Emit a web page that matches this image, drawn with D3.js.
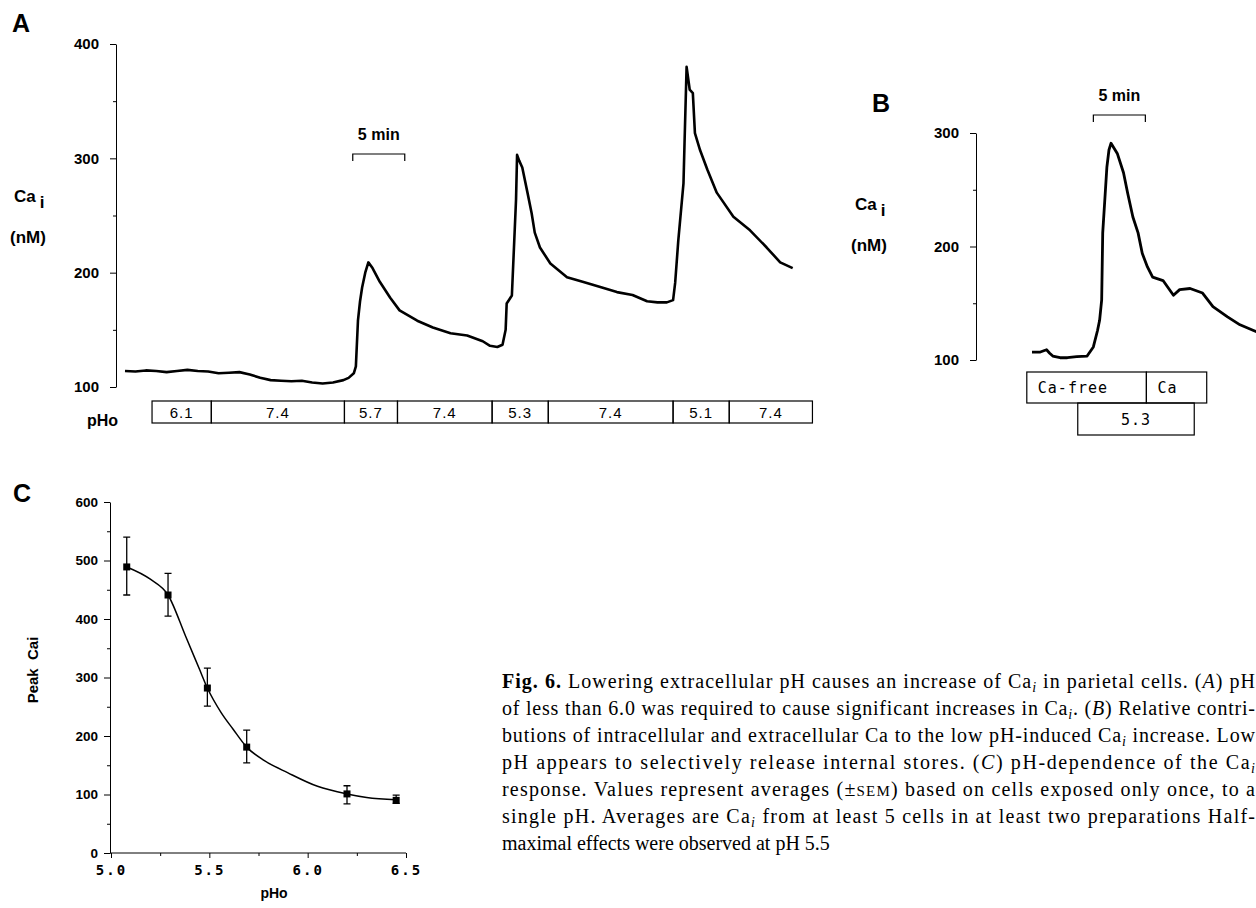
<!DOCTYPE html>
<html>
<head>
<meta charset="utf-8">
<script src="https://cdn.jsdelivr.net/npm/d3@7"></script>
<style>
  body { margin: 0; background: #fff; }
  svg { display: block; }
</style>
</head>
<body>
<svg width="1256" height="908"></svg>
<script>
// ---- panel A: Ca_i trace, time in min, Ca in nM
const traceATime = [0, 1, 2, 3, 4, 5, 6, 7, 8, 9, 10, 11, 12, 13, 14, 15, 16, 17, 18, 19, 20, 21, 21.5, 22, 22.2,
  22.4, 22.6, 22.8, 23.1, 23.4, 23.8, 24.5, 25.5, 26.4, 28.1, 29.6, 31.3, 32.9, 34.4, 35.1, 35.8, 36.3, 36.6,
  36.7, 37.2, 37.4, 37.6, 37.7, 37.9, 38.2, 38.7, 39.1, 39.4, 39.9, 40.9, 42.5, 44.0, 45.7, 47.3, 48.8, 50.2,
  51.2, 52.1, 52.7, 52.9, 53.2, 53.7, 53.8, 54.0, 54.3, 54.6, 54.8, 55.3, 56.0, 56.9, 58.5, 60.1, 61.7, 63.0, 64.2];
const traceACa = [114, 113.5, 114.5, 114, 113, 114, 115, 114, 113.5, 112, 112.5, 113, 111, 108, 106, 105.5, 105,
  105.5, 104, 103, 104, 106, 108, 112, 118, 158, 175, 187, 200, 209, 204, 192, 178, 167, 158, 152, 147, 145, 140,
  136, 135, 137, 150, 173, 180, 222, 264, 303, 298, 292, 270, 252, 235, 222, 208, 196, 192, 187.5, 183, 180.5, 175,
  174, 174, 176, 191, 228, 278, 313, 380, 360, 357, 322, 307, 290, 270, 249, 237, 222, 209, 204];
const boxAStart = [2.6, 8.3, 21.1, 26.2, 35.3, 40.7, 52.7, 58.1];
const boxAEnd = [8.3, 21.1, 26.2, 35.3, 40.7, 52.7, 58.1, 66.1];
const boxALabel = ["6.1", "7.4", "5.7", "7.4", "5.3", "7.4", "5.1", "7.4"];
const ticksA = [100, 200, 300, 400];
const minorA = [150, 250, 350];
const barAStart = 21.9; // 5 min scale bar

// ---- panel B
const traceBTime = [0, 0.8, 1.4, 1.7, 2.0, 2.7, 3.4, 4.3, 5.3, 5.9, 6.3, 6.5, 6.7, 6.8, 7.0, 7.2, 7.4, 7.6, 8.2,
  8.8, 9.2, 9.7, 10.2, 10.6, 11.1, 11.6, 12.6, 13.6, 14.2, 15.2, 16.4, 17.4, 18.8, 20.0, 21.3, 22.1];
const traceBCa = [107, 107, 109, 106, 103.5, 102, 102, 103, 103.5, 111.5, 126, 135, 153, 212, 241, 270, 285, 291,
  282, 265, 247, 226, 212, 194, 182, 173, 170, 157, 162, 163, 159, 147, 138, 131, 126, 123];
const boxBTopStart = [-0.5, 11.0];
const boxBTopEnd = [11.0, 16.8];
const boxBTopLabel = ["Ca-free", "Ca"];
const boxBLowStart = [4.4];
const boxBLowEnd = [15.6];
const boxBLowLabel = ["5.3"];
const ticksB = [100, 200, 300];
const minorB = [150, 250];
const barBStart = 5.9;

// ---- panel C: peak Ca_i vs pHo
const phC = [5.08, 5.29, 5.49, 5.69, 6.20, 6.45];
const peakC = [489, 441, 282, 181, 101, 90];
const errHiC = [540, 478, 316, 210, 115, 99];
const errLoC = [441, 405, 251, 154, 84, 85];
const fitPh = [5.08, 5.2, 5.29, 5.38, 5.45, 5.49, 5.56, 5.62, 5.69, 5.78, 5.9, 6.05, 6.2, 6.3, 6.45];
const fitCa = [489, 468, 441, 370, 314, 282, 240, 212, 181, 158, 137, 114, 101, 95, 91];
const ticksCy = [0, 100, 200, 300, 400, 500, 600];
const minorCy = [50, 150, 250, 350, 450, 550];
const ticksCx = [5.0, 5.5, 6.0, 6.5];
const minorCx = [5.25, 5.75, 6.25];

// ---- caption: [text, style]  b bold, i italic, s subscript, c small caps
const captionLines = [
  [["Fig. 6.", "b"], [" Lowering extracellular pH causes an increase of Ca", ""], ["i", "s"], [" in parietal cells. (", ""], ["A", "i"], [") pH", ""]],
  [["of less than 6.0 was required to cause significant increases in Ca", ""], ["i", "s"], [". (", ""], ["B", "i"], [") Relative contri-", ""]],
  [["butions of intracellular and extracellular Ca to the low pH-induced Ca", ""], ["i", "s"], [" increase. Low", ""]],
  [["pH appears to selectively release internal stores. (", ""], ["C", "i"], [") pH-dependence of the Ca", ""], ["i", "s"]],
  [["response. Values represent averages (\u00b1", ""], ["SEM", "c"], [") based on cells exposed only once, to a", ""]],
  [["single pH. Averages are Ca", ""], ["i", "s"], [" from at least 5 cells in at least two preparations Half-", ""]],
  [["maximal effects were observed at pH 5.5", ""]]
];

const svg = d3.select("svg");
const SANS = "'Liberation Sans', Arial, Helvetica, sans-serif";
const MONO = "'DejaVu Sans Mono', 'Liberation Mono', monospace";

function styleAxis(g, size) {
  g.selectAll("path,line").attr("stroke", "#000").attr("stroke-width", 1);
  g.selectAll("text").attr("font-family", SANS).attr("font-size", size)
    .attr("font-weight", "bold").attr("fill", "#000");
}

// y axis with major + minor ticks
function drawYAxis(x, scale, major, minor, size, pad) {
  const g = svg.append("g").attr("transform", `translate(${x},0)`);
  g.call(d3.axisLeft(scale).tickValues(major).tickSize(6).tickSizeOuter(0).tickPadding(pad));
  g.append("g").call(d3.axisLeft(scale).tickValues(minor).tickSize(3).tickSizeOuter(0).tickFormat(""))
    .select(".domain").remove();
  styleAxis(g, size);
  return g;
}

function label(x, y, txt, size, opts = {}) {
  return svg.append("text").attr("x", x).attr("y", y).text(txt)
    .attr("font-family", opts.family || SANS).attr("font-size", size)
    .attr("font-weight", opts.weight || "bold").attr("text-anchor", opts.anchor || "start")
    .attr("fill", "#000");
}

function caLabel(x, y) {
  const t = label(x, y, "Ca", 17);
  t.append("tspan").attr("dx", 4).attr("dy", 6).text("i");
  label(x - 4, y + 41, "(nM)", 17);
}

function scaleBar(x0, x1, y, txt) {
  svg.append("path").attr("d", `M${x0},${y + 7}V${y}H${x1}V${y + 7}`)
    .attr("fill", "none").attr("stroke", "#000").attr("stroke-width", 1.2);
  label((x0 + x1) / 2, y - 14, txt, 16, { anchor: "middle" });
}

function boxes(xs, starts, ends, labels, y0, h, anchor, size, family) {
  const g = svg.append("g");
  g.selectAll("rect").data(labels).enter().append("rect")
    .attr("x", (d, i) => xs(starts[i])).attr("y", y0)
    .attr("width", (d, i) => xs(ends[i]) - xs(starts[i])).attr("height", h)
    .attr("fill", "none").attr("stroke", "#000").attr("stroke-width", 1.2);
  g.selectAll("text").data(labels).enter().append("text")
    .attr("x", (d, i) => anchor === "middle" ? (xs(starts[i]) + xs(ends[i])) / 2 : xs(starts[i]) + 11)
    .attr("y", y0 + h / 2 + 5.5)
    .attr("text-anchor", anchor).attr("font-family", family).attr("font-size", size)
    .attr("letter-spacing", 1).attr("fill", "#000").text(d => d);
}

// ================= panel A
const xA = d3.scaleLinear().domain([0, 65]).range([125, 801]);
const yA = d3.scaleLinear().domain([100, 400]).range([387, 44]);
drawYAxis(116, yA, ticksA, minorA, 15, 11);
label(12, 32, "A", 25);
caLabel(14, 202);

svg.append("path")
  .datum(traceATime.map((t, i) => [t, traceACa[i]]))
  .attr("d", d3.line().x(d => xA(d[0])).y(d => yA(d[1])))
  .attr("fill", "none").attr("stroke", "#000").attr("stroke-width", 2.6)
  .attr("stroke-linejoin", "round");

scaleBar(xA(barAStart), xA(barAStart + 5), 154, "5 min");
boxes(xA, boxAStart, boxAEnd, boxALabel, 401, 22, "middle", 15, SANS);
label(87, 426, "pHo", 16);

// ================= panel B
const xB = d3.scaleLinear().domain([0, 22]).range([1032, 1032 + 22 * 10.4]);
const yB = d3.scaleLinear().domain([100, 300]).range([360, 133]);
drawYAxis(976, yB, ticksB, minorB, 15, 11);
label(872, 112, "B", 25);
caLabel(855, 210);

svg.append("path")
  .datum(traceBTime.map((t, i) => [t, traceBCa[i]]))
  .attr("d", d3.line().x(d => xB(d[0])).y(d => yB(d[1])))
  .attr("fill", "none").attr("stroke", "#000").attr("stroke-width", 2.8)
  .attr("stroke-linejoin", "round");

scaleBar(xB(barBStart), xB(barBStart + 5), 115, "5 min");
boxes(xB, boxBTopStart, boxBTopEnd, boxBTopLabel, 372, 31, "start", 15, MONO);
boxes(xB, boxBLowStart, boxBLowEnd, boxBLowLabel, 403, 32, "middle", 15, MONO);

// ================= panel C
const xC = d3.scaleLinear().domain([5.0, 6.5]).range([111, 406]);
const yC = d3.scaleLinear().domain([0, 600]).range([853, 502]);
drawYAxis(110, yC, ticksCy, minorCy, 13.5, 6);
label(13, 502, "C", 25);

const gx = svg.append("g").attr("transform", "translate(0,853)");
gx.call(d3.axisBottom(xC).tickValues(ticksCx).tickSize(5).tickSizeOuter(0).tickPadding(7)
  .tickFormat(d3.format(".1f")));
gx.append("g").call(d3.axisBottom(xC).tickValues(minorCx).tickSize(3).tickSizeOuter(0).tickFormat(""))
  .select(".domain").remove();
styleAxis(gx, 14);
gx.selectAll("text").attr("font-family", MONO).attr("letter-spacing", 2);
gx.select(".domain").attr("d", `M110,0H${xC(6.5)}`);

label(274, 898, "pHo", 14, { anchor: "middle" });
svg.append("text").attr("transform", "translate(38,670) rotate(-90)")
  .attr("text-anchor", "middle").attr("font-family", SANS).attr("font-size", 15)
  .attr("font-weight", "bold").attr("xml:space", "preserve").text("Peak  Cai");

svg.append("path")
  .datum(fitPh.map((p, i) => [p, fitCa[i]]))
  .attr("d", d3.line().curve(d3.curveMonotoneX).x(d => xC(d[0])).y(d => yC(d[1])))
  .attr("fill", "none").attr("stroke", "#000").attr("stroke-width", 1.5);

const gp = svg.append("g");
gp.selectAll(".err").data(phC).enter().append("path")
  .attr("d", (p, i) => {
    const x = xC(p), y1 = yC(errHiC[i]), y2 = yC(errLoC[i]);
    return `M${x - 3.5},${y1}H${x + 3.5}M${x},${y1}V${y2}M${x - 3.5},${y2}H${x + 3.5}`;
  })
  .attr("fill", "none").attr("stroke", "#000").attr("stroke-width", 1.3);
gp.selectAll(".pt").data(phC).enter().append("rect")
  .attr("x", p => xC(p) - 3.5).attr("y", (p, i) => yC(peakC[i]) - 3.5)
  .attr("width", 7).attr("height", 7).attr("fill", "#000");

// ================= caption (justified lines)
const capX = 502, capRight = 1255, capY = 688, capStep = 27;
captionLines.forEach((segs, li) => {
  const t = svg.append("text").attr("x", capX).attr("y", capY + li * capStep)
    .attr("font-family", "'Liberation Serif', 'Times New Roman', serif").attr("font-size", 20)
    .attr("fill", "#000").attr("xml:space", "preserve");
  let shift = 0;
  segs.forEach(([s, st]) => {
    const sp = t.append("tspan").text(s);
    const want = st === "s" ? 4 : 0;
    if (want !== shift) { sp.attr("dy", want - shift); shift = want; }
    if (st === "b") sp.attr("font-weight", "bold");
    if (st === "i" || st === "s") sp.attr("font-style", "italic");
    if (st === "s") sp.attr("font-size", 14);
    if (st === "c") sp.attr("font-size", 15);
  });
  if (li < captionLines.length - 1) {
    t.attr("textLength", capRight - capX).attr("lengthAdjust", "spacing");
  }
});
</script>
</body>
</html>
